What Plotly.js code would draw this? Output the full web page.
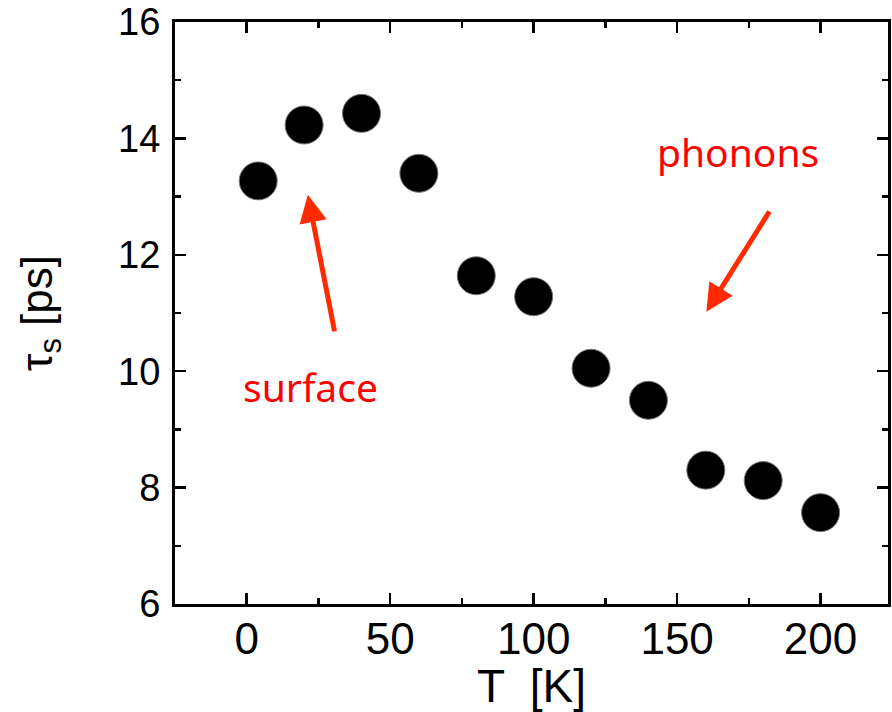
<!DOCTYPE html>
<html>
<head>
<meta charset="utf-8">
<script src="https://cdn.plot.ly/plotly-3.0.1.min.js"></script>
<style>html,body{margin:0;padding:0;background:#fff;}#chart{width:892px;height:712px;}</style>
</head>
<body>
<div id="chart"></div>
<script>
// Data
const temperatureK = [4, 20, 40, 60, 80, 100, 120, 140, 160, 180, 200];
const tauS = [13.27, 14.23, 14.43, 13.40, 11.64, 11.28, 10.05, 9.50, 8.30, 8.12, 7.57];
const xTicks = [0, 50, 100, 150, 200];
const yTicks = [6, 8, 10, 12, 14, 16];

// Annotation labels
const labels = ["surface", "phonons"];

const trace = {
  x: temperatureK,
  y: tauS,
  mode: 'markers',
  type: 'scatter',
  marker: {color: '#000', size: 38, line: {color: '#777', width: 1}},
  hoverinfo: 'skip'
};

const red = '#ff0000';
const arrowRed = '#ff2a00';
const narrow = 'Liberation Sans Narrow, Arial Narrow, Liberation Sans, sans-serif';

const layout = {
  width: 892, height: 712,
  margin: {l: 175, r: 4, t: 22, b: 108},
  paper_bgcolor: '#fff', plot_bgcolor: '#fff',
  showlegend: false,
  font: {family: 'Liberation Sans, Arial, sans-serif', color: '#000'},
  xaxis: {
    range: [-25, 223.5],
    tickvals: xTicks,
    ticktext: xTicks.map(String),
    ticks: 'inside', ticklen: 11, tickwidth: 2.5, tickcolor: '#000',
    minor: {dtick: 25, tick0: 0, ticks: 'inside', ticklen: 6, tickwidth: 2.5, tickcolor: '#000'},
    showline: true, linecolor: '#000', linewidth: 3, mirror: 'ticks',
    showgrid: false, zeroline: false,
    tickfont: {size: 44, family: narrow},
    ticklabelstandoff: -6,
    title: {text: 'T  [K]', font: {size: 46, family: narrow}, standoff: 6}
  },
  yaxis: {
    range: [6, 16],
    tickvals: yTicks,
    ticks: 'inside', ticklen: 11, tickwidth: 2.5, tickcolor: '#000',
    minor: {dtick: 1, tick0: 0, ticks: 'inside', ticklen: 6, tickwidth: 2.5, tickcolor: '#000'},
    showline: true, linecolor: '#000', linewidth: 3, mirror: 'ticks',
    showgrid: false, zeroline: false,
    tickfont: {size: 38, family: 'Liberation Sans, Arial, sans-serif'},
    ticklabelstandoff: 4,
    title: {text: 'τ<sub>s</sub> [ps]', font: {size: 44}, standoff: 52}
  },
  annotations: [
    {x: 21.3, y: 13.03, ax: 30.7, ay: 10.66, xref: 'x', yref: 'y', axref: 'x', ayref: 'y',
     text: '', showarrow: true, arrowhead: 2, arrowsize: 1.1, arrowwidth: 5, arrowcolor: arrowRed},
    {x: 160.2, y: 11.02, ax: 182.5, ay: 12.77, xref: 'x', yref: 'y', axref: 'x', ayref: 'y',
     text: '', showarrow: true, arrowhead: 2, arrowsize: 1.1, arrowwidth: 5, arrowcolor: arrowRed},
    {x: 22.3, y: 9.73, xref: 'x', yref: 'y', text: labels[0], showarrow: false,
     font: {family: 'Noto Sans, Open Sans, sans-serif', size: 39, color: red}},
    {x: 171.3, y: 13.78, xref: 'x', yref: 'y', text: labels[1], showarrow: false,
     font: {family: 'Noto Sans, Open Sans, sans-serif', size: 39, color: red}}
  ]
};

Plotly.newPlot('chart', [trace], layout, {displayModeBar: false, staticPlot: true});
</script>
</body>
</html>
